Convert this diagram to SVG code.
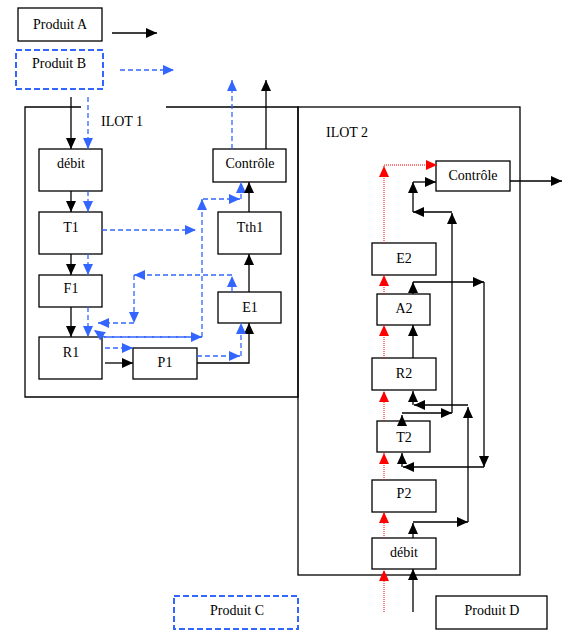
<svg xmlns="http://www.w3.org/2000/svg" width="570" height="640" viewBox="0 0 570 640">
<style>
.box{fill:#fff;stroke:#000;stroke-width:1.3}
.dbox{fill:#fff;stroke:#3366ff;stroke-width:2;stroke-dasharray:6 3}
text{font-size:14px;fill:#000}
.t{text-anchor:middle}
.k{fill:none;stroke:#000;stroke-width:1.3;marker-end:url(#ak)}
.b{fill:none;stroke:#3366ff;stroke-width:1.3;stroke-dasharray:5 3;marker-end:url(#ab)}
.r{fill:none;stroke:#ff0000;stroke-width:1;stroke-dasharray:1 1;marker-end:url(#ar)}
.frame{fill:none;stroke:#000;stroke-width:1.3}
</style>
<defs>
<marker id="ak" markerWidth="11" markerHeight="10" refX="11" refY="5" orient="auto" markerUnits="userSpaceOnUse"><path d="M0,0 L11,5 L0,10 z" fill="#000"/></marker>
<marker id="ab" markerWidth="11" markerHeight="10" refX="11" refY="5" orient="auto" markerUnits="userSpaceOnUse"><path d="M0,0 L11,5 L0,10 z" fill="#3366ff"/></marker>
<marker id="ar" markerWidth="11" markerHeight="10" refX="11" refY="5" orient="auto" markerUnits="userSpaceOnUse"><path d="M0,0 L11,5 L0,10 z" fill="#ff0000"/></marker>
</defs>
<rect width="570" height="640" fill="#fff"/>
<g font-family="'Liberation Serif', 'Times New Roman', serif">
<g id="ilot1">
<path class="frame" d="M81,107 L25,107 L25,397 L298,397 L298,107 L166,107"/>
<text x="101" y="126">ILOT 1</text>
</g>
<g id="ilot2">
<rect class="frame" x="298" y="107" width="222" height="468"/>
<text x="326" y="137">ILOT 2</text>
</g>

<g id="produitA"><rect class="box" x="18" y="8" width="84" height="33"/><text class="t" x="60" y="29">Produit A</text></g>
<g id="produitB"><rect class="dbox" x="16" y="50" width="87" height="39"/><text class="t" x="59" y="68">Produit B</text></g>
<g id="produitC"><rect class="dbox" x="174" y="596" width="124" height="33"/><text class="t" x="237" y="615">Produit C</text></g>
<g id="produitD"><rect class="box" x="436" y="596" width="111" height="33"/><text class="t" x="492" y="615">Produit D</text></g>

<g id="debit1"><rect class="box" x="39" y="149" width="63" height="42"/><text class="t" x="71" y="168">débit</text></g>
<g id="T1"><rect class="box" x="39" y="212" width="63" height="42"/><text class="t" x="71" y="232">T1</text></g>
<g id="F1"><rect class="box" x="39" y="275" width="63" height="32"/><text class="t" x="71" y="293">F1</text></g>
<g id="R1"><rect class="box" x="39" y="337" width="63" height="42"/><text class="t" x="71" y="357">R1</text></g>
<g id="P1"><rect class="box" x="133" y="348" width="64" height="31"/><text class="t" x="165" y="367">P1</text></g>
<g id="E1"><rect class="box" x="218" y="292" width="63" height="31"/><text class="t" x="250" y="312">E1</text></g>
<g id="Tth1"><rect class="box" x="218" y="212" width="63" height="42"/><text class="t" x="250" y="232">Tth1</text></g>
<g id="Controle1"><rect class="box" x="213" y="149" width="73" height="33"/><text class="t" x="250" y="168">Contrôle</text></g>

<g id="Controle2"><rect class="box" x="436" y="161" width="74" height="30"/><text class="t" x="473" y="180">Contrôle</text></g>
<g id="E2"><rect class="box" x="372" y="243" width="64" height="32"/><text class="t" x="404" y="263">E2</text></g>
<g id="A2"><rect class="box" x="377" y="294" width="53" height="31"/><text class="t" x="404" y="313">A2</text></g>
<g id="R2"><rect class="box" x="372" y="358" width="64" height="32"/><text class="t" x="404" y="378">R2</text></g>
<g id="T2"><rect class="box" x="377" y="421" width="53" height="31"/><text class="t" x="404" y="442">T2</text></g>
<g id="P2"><rect class="box" x="372" y="480" width="64" height="32"/><text class="t" x="404" y="498">P2</text></g>
<g id="debit2"><rect class="box" x="372" y="538" width="64" height="31"/><text class="t" x="404" y="557">débit</text></g>
</g>

<g id="connectors">
<path class="k" d="M112,33 L157,33"/>
<path class="b" d="M120,70 L174,70"/>
<path class="k" d="M71,97 L71,149"/>
<path class="b" d="M88,97 L88,149"/>
<path class="k" d="M266,149 L266,80"/>
<path class="b" d="M232,149 L232,80"/>
<path class="k" d="M71,191 L71,212"/>
<path class="b" d="M88,191 L88,212"/>
<path class="k" d="M71,254 L71,275"/>
<path class="b" d="M88,254 L88,275"/>
<path class="k" d="M71,307 L71,337"/>
<path class="b" d="M88,307 L88,337"/>
<path class="k" d="M105,363 L133,363"/>
<path class="b" d="M105,348 L133,348"/>
<path class="b" d="M102,230 L196,230"/>
<path class="b" d="M202,337 L202,199"/>
<path class="b" d="M203,199 L240,199"/>
<path class="b" d="M241,199 L241,182"/>
<path class="k" d="M249,212 L249,182"/>
<path class="k" d="M249,292 L249,254"/>
<path class="k" d="M197,363 L249,363 L249,323"/>
<path class="b" d="M197,356 L240,356"/>
<path class="b" d="M241,356 L241,323"/>
<path class="b" d="M232,292 L232,276"/>
<path class="b" d="M232,275 L134,275"/>
<path class="b" d="M134,275 L134,323"/>
<path class="b" d="M134,323 L98,323"/>
<path class="b" d="M104,337 L202,337"/>
<path class="b" d="M202,337 L104,337 L94,330"/>
<path class="k" d="M510,181 L562,181"/>
<path class="r" d="M384,243 L384,166"/>
<path class="r" d="M384,165 L437,165"/>
<path class="k" d="M413,212 L413,182"/>
<path class="k" d="M413,182 L436,182"/>
<path class="k" d="M452,212 L413,212"/>
<path class="k" d="M452,413 L452,213"/>
<path class="k" d="M402,413 L452,413"/>
<path class="k" d="M402,425 L402,415"/>
<path class="r" d="M384,294 L384,275"/>
<path class="k" d="M413,294 L413,282"/>
<path class="k" d="M413,282 L484,282"/>
<path class="k" d="M484,282 L484,467"/>
<path class="k" d="M484,467 L403,467"/>
<path class="k" d="M402,467 L402,453"/>
<path class="k" d="M413,358 L413,325"/>
<path class="r" d="M384,358 L384,325"/>
<path class="k" d="M468,522 L468,407"/>
<path class="k" d="M468,405 L414,405"/>
<path class="k" d="M413,405 L413,391"/>
<path class="r" d="M384,421 L384,391"/>
<path class="k" d="M413,538 L413,523"/>
<path class="k" d="M413,522 L468,522"/>
<path class="r" d="M384,480 L384,453"/>
<path class="r" d="M384,538 L384,512"/>
<path class="r" d="M384,612 L384,570"/>
<path class="k" d="M413,612 L413,569"/>
</g>
</svg>
